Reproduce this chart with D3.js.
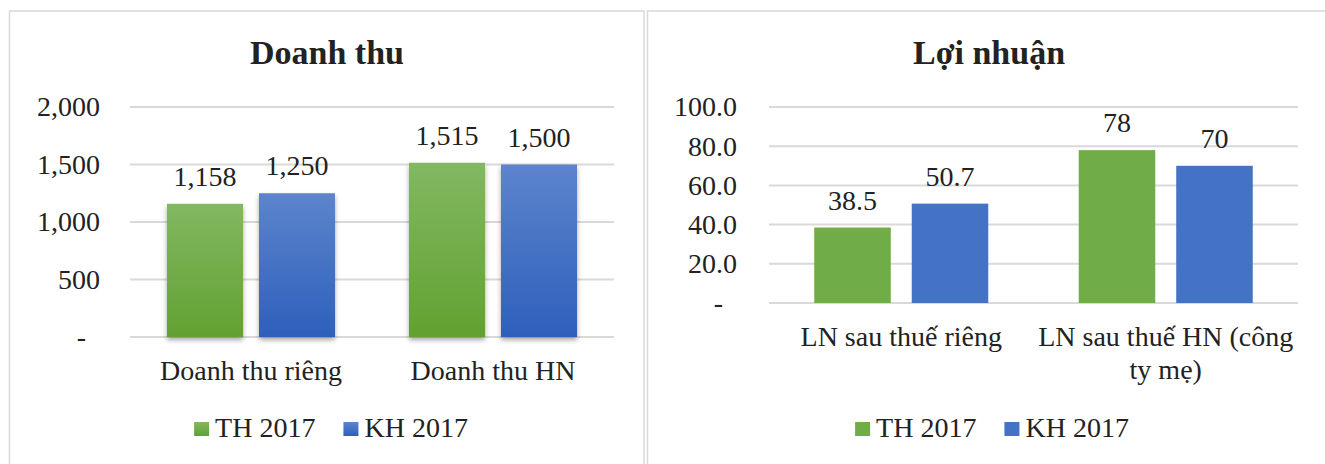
<!DOCTYPE html>
<html>
<head>
<meta charset="utf-8">
<script src="https://cdn.jsdelivr.net/npm/d3@7"></script>
<style>
  html, body { margin: 0; padding: 0; background: #fff; }
  svg text { font-family: "Liberation Serif", "Times New Roman", serif; fill: #222; }
</style>
</head>
<body>
<svg id="chart" width="1325" height="464"></svg>
<script>
// ---- Data ----
const seriesNames = ["TH 2017", "KH 2017"];

const revenueCategories = ["Doanh thu riêng", "Doanh thu HN"];
const revenueTH = [1158, 1515];
const revenueKH = [1250, 1500];
const revenueTicks = [0, 500, 1000, 1500, 2000];
const revenueLabels = ["1,158", "1,515", "1,250", "1,500"];

const profitCategories = ["LN sau thuế riêng", "LN sau thuế HN (công ty mẹ)"];
const profitTH = [38.5, 78];
const profitKH = [50.7, 70];
const profitTicks = [0, 20, 40, 60, 80, 100];
const profitLabelsTH = ["38.5", "78"];
const profitLabelsKH = ["50.7", "70"];

const svg = d3.select("#chart");
const defs = svg.append("defs");

// gradients for left chart
function addGrad(id, top, bottom) {
  const g = defs.append("linearGradient").attr("id", id)
    .attr("x1", 0).attr("y1", 0).attr("x2", 0).attr("y2", 1);
  g.append("stop").attr("offset", "0%").attr("stop-color", top);
  g.append("stop").attr("offset", "100%").attr("stop-color", bottom);
}
addGrad("gGreen", "#82b862", "#62a131");
addGrad("gBlue", "#5d84cd", "#2d60bb");
const f = defs.append("filter").attr("id", "shadow")
  .attr("x", "-20%").attr("y", "-10%").attr("width", "140%").attr("height", "130%");
f.append("feDropShadow").attr("dx", 0).attr("dy", 3).attr("stdDeviation", 2.5)
  .attr("flood-color", "#000").attr("flood-opacity", 0.35);

// panel borders
svg.append("rect").attr("x", 9.5).attr("y", 11).attr("width", 634.5).attr("height", 470)
  .attr("fill", "none").attr("stroke", "#d9d9d9").attr("stroke-width", 1.5);
svg.append("rect").attr("x", 647.5).attr("y", 11).attr("width", 700).attr("height", 470)
  .attr("fill", "none").attr("stroke", "#d9d9d9").attr("stroke-width", 1.5);

function wrap(textSel, width, lineH) {
  textSel.each(function() {
    const t = d3.select(this);
    const words = t.text().split(/\s+/);
    const x = t.attr("x");
    t.text(null);
    let line = [];
    let tspan = t.append("tspan").attr("x", x).attr("dy", 0);
    let lineNo = 0;
    for (const w of words) {
      line.push(w);
      tspan.text(line.join(" "));
      if (tspan.node().getComputedTextLength() > width && line.length > 1) {
        line.pop();
        tspan.text(line.join(" "));
        line = [w];
        lineNo++;
        tspan = t.append("tspan").attr("x", x).attr("dy", lineH).text(w);
      }
    }
  });
}

function drawPanel(opt) {
  const g = svg.append("g");
  const x0 = d3.scaleBand().domain(opt.categories).range([opt.left, opt.right]).padding(0);
  const x1 = d3.scaleBand().domain(seriesNames).range([0, x0.bandwidth()])
    .paddingInner(opt.pIn).paddingOuter(opt.pOut);
  const y = d3.scaleLinear().domain([0, opt.max]).range([opt.bottom, opt.top]);

  // grid
  g.selectAll("line.grid").data(opt.ticks).join("line")
    .attr("x1", opt.left).attr("x2", opt.right)
    .attr("y1", d => y(d)).attr("y2", d => y(d))
    .attr("stroke", "#d9d9d9").attr("stroke-width", 2);

  // y axis labels
  const axis = d3.axisLeft(y).tickValues(opt.ticks).tickSize(0).tickPadding(0)
    .tickFormat(d => d === 0 ? "-" : opt.fmt(d));
  const ag = g.append("g").attr("transform", `translate(${opt.tickX},0)`).call(axis);
  ag.select(".domain").remove();
  ag.selectAll("text").attr("font-size", 28).attr("fill", "#222")
    .attr("font-family", "Liberation Serif").attr("dy", "0.32em");
  ag.selectAll(".tick").filter(d => d === 0).select("text").attr("dx", -14);

  // bars
  const rows = opt.categories.map((c, i) => ({ c, vals: [
    { s: seriesNames[0], v: opt.th[i], lab: opt.labTH[i] },
    { s: seriesNames[1], v: opt.kh[i], lab: opt.labKH[i] }] }));
  const cg = g.selectAll("g.cat").data(rows).join("g")
    .attr("transform", d => `translate(${x0(d.c)},0)`);
  cg.selectAll("rect").data(d => d.vals).join("rect")
    .attr("x", d => x1(d.s)).attr("width", x1.bandwidth())
    .attr("y", d => y(d.v)).attr("height", d => opt.bottom - y(d.v))
    .attr("fill", d => opt.colors[seriesNames.indexOf(d.s)])
    .attr("filter", opt.shadow ? "url(#shadow)" : null);
  cg.selectAll("text").data(d => d.vals).join("text")
    .attr("x", d => x1(d.s) + x1.bandwidth() / 2)
    .attr("y", d => y(d.v) - 18)
    .attr("text-anchor", "middle").attr("font-size", 28)
    .text(d => d.lab);

  // x labels
  g.selectAll("text.xl").data(opt.categories).join("text")
    .attr("class", "xl")
    .attr("x", d => x0(d) + x0.bandwidth() / 2)
    .attr("y", opt.bottom + 43)
    .attr("text-anchor", "middle").attr("font-size", 28)
    .text(d => d)
    .call(wrap, x0.bandwidth(), 33);

  // title
  g.append("text").attr("x", opt.titleX).attr("y", 64).attr("text-anchor", "middle")
    .attr("font-size", 34).attr("font-weight", "bold").text(opt.title);

  // legend
  const lg = g.append("g");
  let cx = 0;
  seriesNames.forEach((s, i) => {
    const it = lg.append("g").attr("transform", `translate(${cx},0)`);
    it.append("rect").attr("x", 0).attr("y", -15).attr("width", 15).attr("height", 14)
      .attr("fill", opt.colors[i]);
    const t = it.append("text").attr("x", 21).attr("y", 0).attr("font-size", 28).text(s);
    cx += 21 + t.node().getComputedTextLength() + 28;
  });
  const total = cx - 28;
  lg.attr("transform", `translate(${opt.legendX - total / 2},437)`);
}

drawPanel({
  title: "Doanh thu", titleX: 327, legendX: 331,
  categories: revenueCategories, th: revenueTH, kh: revenueKH,
  labTH: [revenueLabels[0], revenueLabels[1]], labKH: [revenueLabels[2], revenueLabels[3]],
  ticks: revenueTicks, max: 2000, fmt: d3.format(","),
  left: 130, right: 614, top: 107, bottom: 337, tickX: 100,
  pIn: 0.174, pOut: 0.402,
  colors: ["url(#gGreen)", "url(#gBlue)"], shadow: true
});
// legend swatches for left use gradients too (already via colors)

drawPanel({
  title: "Lợi nhuận", titleX: 989, legendX: 992,
  categories: profitCategories, th: profitTH, kh: profitKH,
  labTH: profitLabelsTH, labKH: profitLabelsKH,
  ticks: profitTicks, max: 100, fmt: d3.format(".1f"),
  left: 769, right: 1298, top: 107, bottom: 303, tickX: 737,
  pIn: 0.215, pOut: 0.464,
  colors: ["#70ad47", "#4472c4"], shadow: false
});
</script>
</body>
</html>
